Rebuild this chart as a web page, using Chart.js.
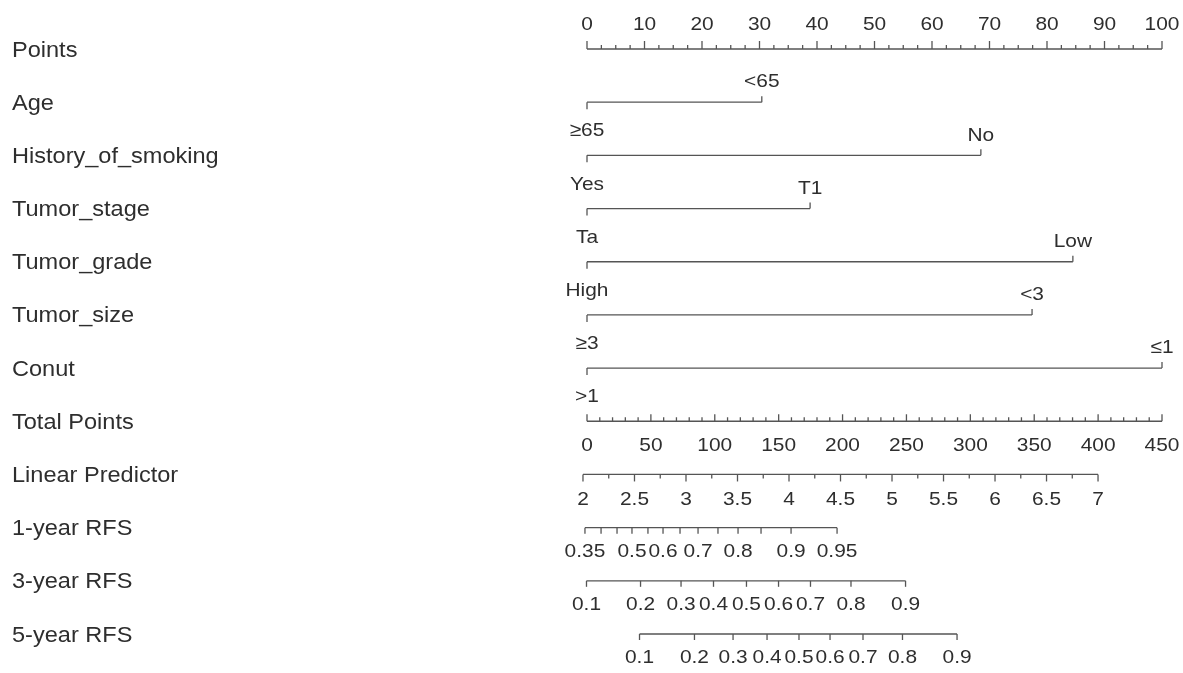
<!DOCTYPE html>
<html>
<head>
<meta charset="utf-8">
<script src="https://cdn.jsdelivr.net/npm/chart.js@4.4.1/dist/chart.umd.min.js"></script>
<style>
  body { margin: 0; background: #fff; }
  #wrap { width: 1183px; height: 673px; }
</style>
</head>
<body>
<div id="wrap"><canvas id="nomo" width="1183" height="673"></canvas></div>
<script>
// rows of the nomogram, top to bottom
const rowNames = ['Points', 'Age', 'History_of_smoking', 'Tumor_stage', 'Tumor_grade',
  'Tumor_size', 'Conut', 'Total Points', 'Linear Predictor', '1-year RFS', '3-year RFS', '5-year RFS'];

// covariates: level at 0 points, level at the far end, and its points
const factorLow = ['≥65', 'Yes', 'Ta', 'High', '≥3', '>1'];
const factorHigh = ['<65', 'No', 'T1', 'Low', '<3', '≤1'];
const factorPoints = [30.4, 68.5, 38.8, 84.5, 77.4, 100];

// Total points / linear predictor ranges
const totalMax = 450;
const lpMin = 2, lpMax = 7;
const lpAtTotal0 = 2.039, lpAtTotalMax = 7.621;

// survival axes: tick values and their position in total points
const rfs1Values = [0.35, 0.4, 0.45, 0.5, 0.55, 0.6, 0.65, 0.7, 0.75, 0.8, 0.85, 0.9, 0.95];
const rfs1Total  = [-1.6, 11.0, 23.5, 35.2, 47.7, 59.5, 72.8, 86.9, 102.5, 118.2, 136.2, 159.7, 195.7];
const rfs1Labels = ['0.35', '', '', '0.5', '', '0.6', '', '0.7', '', '0.8', '', '0.9', '0.95'];

const rfs3Values = [0.1, 0.2, 0.3, 0.4, 0.5, 0.6, 0.7, 0.8, 0.9];
const rfs3Total  = [-0.4, 41.9, 73.6, 99.0, 124.8, 149.9, 174.9, 206.6, 249.3];

const rfs5Values = [0.1, 0.2, 0.3, 0.4, 0.5, 0.6, 0.7, 0.8, 0.9];
const rfs5Total  = [41.1, 84.1, 114.3, 140.9, 165.9, 190.2, 216.0, 246.9, 289.6];

const lineColor = '#555';
const textColor = '#2e2e2e';
const nameFont = '22px "Liberation Sans", Arial, sans-serif';
const tickFont = '19px "Liberation Sans", Arial, sans-serif';

function range(a, b, s) {
  const out = [];
  for (let v = a; v <= b + 1e-9; v += s) out.push(Math.round(v * 1000) / 1000);
  return out;
}

function seg(axis, x0, x1, row) {
  return {
    xAxisID: axis,
    data: [{ x: x0, y: row }, { x: x1, y: row }],
    borderColor: lineColor,
    borderWidth: 1.3,
    pointRadius: 0,
    clip: false
  };
}

const datasets = [seg('x', 0, 100, 0)];
factorPoints.forEach((p, i) => datasets.push(seg('x', 0, p, i + 1)));
datasets.push(seg('xTotal', 0, totalMax, 7));
datasets.push(seg('xLP', lpMin, lpMax, 8));
datasets.push(seg('xTotal', rfs1Total[0], rfs1Total[rfs1Total.length - 1], 9));
datasets.push(seg('xTotal', rfs3Total[0], rfs3Total[rfs3Total.length - 1], 10));
datasets.push(seg('xTotal', rfs5Total[0], rfs5Total[rfs5Total.length - 1], 11));

const nomoPlugin = {
  id: 'nomo',
  afterDatasetsDraw(chart) {
    const { ctx, scales } = chart;
    const yp = r => scales.y.getPixelForValue(r);
    const tick = (x, y, len) => {
      ctx.beginPath();
      ctx.moveTo(x, y);
      ctx.lineTo(x, y + len);
      ctx.stroke();
    };
    // text in the original is a bit wider than Liberation Sans
    const text = (t, x, y, stretch) => {
      ctx.save();
      ctx.translate(x, y);
      ctx.scale(stretch, 1);
      ctx.fillText(t, 0, 0);
      ctx.restore();
    };
    ctx.save();
    ctx.strokeStyle = lineColor;
    ctx.lineWidth = 1.3;
    ctx.fillStyle = textColor;
    ctx.textBaseline = 'middle';

    // row names
    ctx.font = nameFont;
    ctx.textAlign = 'left';
    rowNames.forEach((n, i) => text(n, 12, yp(i) + 1.5, 1.07));

    ctx.font = tickFont;
    ctx.textAlign = 'center';
    const tl = (t, x, y) => text(t, x, y, 1.1);

    // Points axis (ticks up, labels above)
    const y0 = yp(0);
    range(0, 100, 2.5).forEach(v => {
      const major = v % 10 === 0;
      tick(scales.x.getPixelForValue(v), y0, major ? -8 : -4);
      if (major) tl(String(v), scales.x.getPixelForValue(v), y0 - 24);
    });

    // covariates
    factorPoints.forEach((p, i) => {
      const y = yp(i + 1);
      const xl = scales.x.getPixelForValue(0);
      const xr = scales.x.getPixelForValue(p);
      tick(xl, y, 7);
      tick(xr, y, -6);
      tl(factorLow[i], xl, y + 29);
      tl(factorHigh[i], xr, y - 20);
    });

    // Total points (ticks up, labels below)
    const y7 = yp(7);
    range(0, totalMax, 10).forEach(v => {
      const major = v % 50 === 0;
      const x = scales.xTotal.getPixelForValue(v);
      tick(x, y7, major ? -7 : -4);
      if (major) tl(String(v), x, y7 + 24);
    });

    // Linear predictor (ticks down)
    const y8 = yp(8);
    range(lpMin, lpMax, 0.25).forEach(v => {
      const major = Math.abs(v * 2 - Math.round(v * 2)) < 1e-6;
      const x = scales.xLP.getPixelForValue(v);
      tick(x, y8, major ? 7 : 4);
      if (major) tl(String(v), x, y8 + 25);
    });

    // survival axes
    const survRow = (row, values, totals, labels) => {
      const y = yp(row);
      values.forEach((v, i) => {
        const x = scales.xTotal.getPixelForValue(totals[i]);
        tick(x, y, 6);
        const lab = labels ? labels[i] : String(v);
        if (lab) tl(lab, x, y + 24);
      });
    };
    survRow(9, rfs1Values, rfs1Total, rfs1Labels);
    survRow(10, rfs3Values, rfs3Total, null);
    survRow(11, rfs5Values, rfs5Total, null);

    ctx.restore();
  }
};

new Chart(document.getElementById('nomo'), {
  type: 'line',
  data: { datasets: datasets },
  options: {
    responsive: false,
    animation: false,
    devicePixelRatio: 1,
    layout: { padding: { left: 587, right: 21, top: 49, bottom: 39 } },
    plugins: { legend: { display: false }, tooltip: { enabled: false } },
    scales: {
      x: { type: 'linear', min: 0, max: 100, display: false },
      xTotal: { type: 'linear', axis: 'x', min: 0, max: totalMax, display: false },
      xLP: { type: 'linear', axis: 'x', min: lpAtTotal0, max: lpAtTotalMax, display: false },
      y: { type: 'linear', min: 0, max: 11, reverse: true, display: false }
    }
  },
  plugins: [nomoPlugin]
});
</script>
</body>
</html>
